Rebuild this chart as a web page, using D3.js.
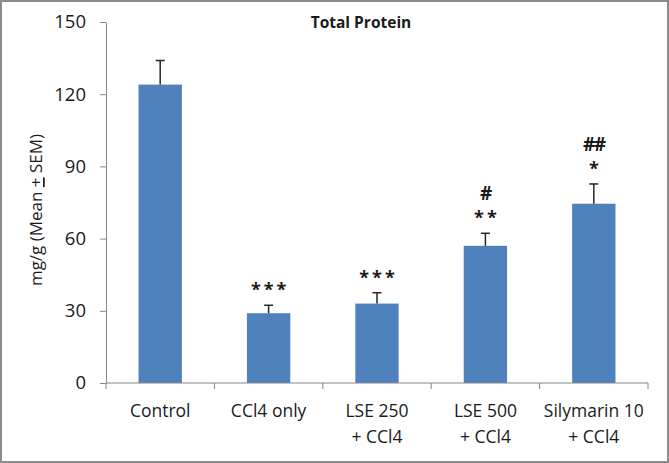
<!DOCTYPE html>
<html>
<head>
<meta charset="utf-8">
<script src="https://cdn.jsdelivr.net/npm/d3@7"></script>
<style>
  html, body { margin: 0; padding: 0; background: #fff; }
  svg { display: block; }
  text { font-family: "Open Sans", "Noto Sans", sans-serif; fill: #1a1a1a; }
</style>
</head>
<body>
<script>
const categories = [["Control"], ["CCl4 only"], ["LSE 250", "+ CCl4"], ["LSE 500", "+ CCl4"], ["Silymarin 10", "+ CCl4"]];
const means = [124, 29, 33, 57, 74.5];
const sems = [10, 3.3, 4.5, 5.2, 8.2];
const starLabels = ["", "***", "***", "**", "*"];
const hashLabels = ["", "", "", "#", "##"];
const yTicks = [0, 30, 60, 90, 120, 150];

const W = 669, H = 463;
const margin = { left: 106, right: 21, top: 22, bottom: 80 };

const svg = d3.select("body").append("svg").attr("width", W).attr("height", H);
svg.append("rect").attr("x", 1).attr("y", 1).attr("width", W - 2).attr("height", H - 2)
  .attr("fill", "#fff").attr("stroke", "#8c8c8c").attr("stroke-width", 2);

const x = d3.scaleBand().domain(d3.range(categories.length))
  .range([margin.left, W - margin.right]).paddingInner(0.6).paddingOuter(0.3);
const xOuter = d3.scaleBand().domain(d3.range(categories.length))
  .range([margin.left, W - margin.right]);
const y = d3.scaleLinear().domain([0, 150]).range([H - margin.bottom, margin.top]);

// bars
svg.selectAll("rect.bar").data(means).enter().append("rect")
  .attr("class", "bar")
  .attr("x", (d, i) => x(i)).attr("width", x.bandwidth())
  .attr("y", d => y(d)).attr("height", d => y(0) - y(d))
  .attr("fill", "#4f81bd");

// error bars
const eg = svg.append("g").attr("stroke", "#262626").attr("stroke-width", 1.5);
means.forEach((m, i) => {
  const cx = x(i) + x.bandwidth() / 2;
  eg.append("line").attr("x1", cx).attr("x2", cx).attr("y1", y(m)).attr("y2", y(m + sems[i]));
  eg.append("line").attr("x1", cx - 4.5).attr("x2", cx + 4.5).attr("y1", y(m + sems[i])).attr("y2", y(m + sems[i]));
});

// significance labels
means.forEach((m, i) => {
  const cx = x(i) + x.bandwidth() / 2;
  const top = y(m + sems[i]);
  if (starLabels[i]) {
    svg.append("text").attr("x", cx + 1.5).attr("y", top - 9)
      .attr("text-anchor", "middle").attr("font-size", 18).attr("font-weight", "bold")
      .attr("letter-spacing", 3).text(starLabels[i]);
  }
  if (hashLabels[i]) {
    svg.append("text").attr("x", cx).attr("y", top - 33)
      .attr("text-anchor", "middle").attr("font-size", 19).attr("font-weight", "bold")
      .attr("letter-spacing", -1.5).text(hashLabels[i]);
  }
});

// y axis
const yAxis = d3.axisLeft(y).tickValues(yTicks).tickSize(6).tickSizeOuter(0);
const gy = svg.append("g").attr("transform", `translate(${margin.left},0)`).call(yAxis);
gy.select(".domain").attr("stroke", "#868686");
gy.selectAll(".tick line").attr("stroke", "#868686");
gy.selectAll(".tick text").attr("font-size", 18.5).attr("x", -20).attr("fill", "#1a1a1a")
  .style("font-family", '"Open Sans", sans-serif');

// x axis
const gx = svg.append("g").attr("transform", `translate(0,${y(0)})`);
gx.append("line").attr("x1", margin.left).attr("x2", W - margin.right)
  .attr("stroke", "#868686");
const tickPos = d3.range(categories.length + 1).map(i => i < categories.length ? xOuter(i) : xOuter(i - 1) + xOuter.bandwidth());
gx.selectAll("line.tk").data(tickPos).enter().append("line").attr("class", "tk")
  .attr("x1", d => d).attr("x2", d => d).attr("y1", 0).attr("y2", 6).attr("stroke", "#868686");
categories.forEach((lines, i) => {
  const t = gx.append("text").attr("text-anchor", "middle").attr("font-size", 17.5)
    .attr("x", xOuter(i) + xOuter.bandwidth() / 2).attr("y", 34);
  lines.forEach((ln, j) => t.append("tspan").attr("x", xOuter(i) + xOuter.bandwidth() / 2)
    .attr("dy", j === 0 ? 0 : 26).text(ln));
});

// title
svg.append("text").attr("x", 361).attr("y", 28).attr("text-anchor", "middle")
  .attr("font-size", 15.5).attr("font-weight", "bold").text("Total Protein");

// y label
const yl = svg.append("text").attr("transform", "translate(42,210) rotate(-90)")
  .attr("text-anchor", "middle").attr("font-size", 17);
yl.append("tspan").text("mg/g (Mean ");
yl.append("tspan").attr("text-decoration", "underline").text("+");
yl.append("tspan").text(" SEM)");
</script>
</body>
</html>
